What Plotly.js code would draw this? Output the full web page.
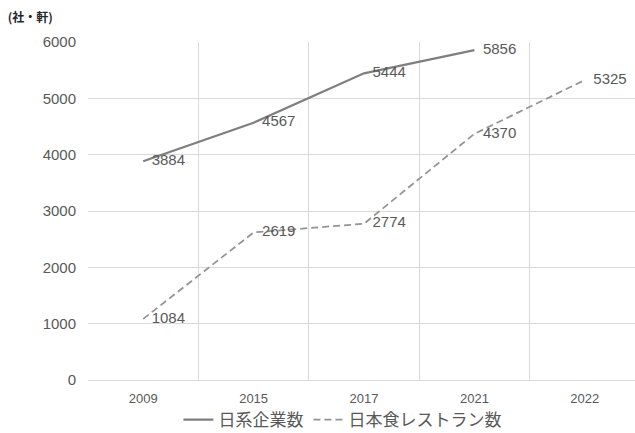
<!DOCTYPE html>
<html>
<head>
<meta charset="utf-8">
<script src="https://cdn.plot.ly/plotly-3.0.1.min.js"></script>
<style>
  html, body { margin: 0; padding: 0; overflow: hidden; background: #fff; }
  #chart { width: 640px; height: 433px; }
</style>
</head>
<body>
<div id="chart"></div>
<script>
// Survey years (category axis)
const years = ['2009', '2015', '2017', '2021', '2022'];

// Japanese-affiliated companies (社)
const companyYears = ['2009', '2015', '2017', '2021'];
const companyCounts = [3884, 4567, 5444, 5856];

// Japanese restaurants (軒)
const restaurantYears = ['2009', '2015', '2017', '2021', '2022'];
const restaurantCounts = [1084, 2619, 2774, 4370, 5325];

const seriesNames = ['日系企業数', '日本食レストラン数'];
const unitLabel = '(社・軒)';

const labelFont = { family: 'Liberation Sans, Arial, sans-serif', size: 15, color: '#595959' };

// Invisible markers give the value labels a small gap from the line
const hiddenMarker = { size: 12, color: 'rgba(0,0,0,0)' };

const traces = [
  {
    type: 'scatter',
    mode: 'lines+markers+text',
    name: seriesNames[0],
    x: companyYears,
    y: companyCounts,
    text: companyCounts.map(String),
    textposition: 'middle right',
    textfont: labelFont,
    marker: hiddenMarker,
    line: { color: '#7f7f7f', width: 2.25 },
    cliponaxis: false,
    hoverinfo: 'x+y'
  },
  {
    type: 'scatter',
    mode: 'lines+markers+text',
    name: seriesNames[1],
    x: restaurantYears,
    y: restaurantCounts,
    text: restaurantCounts.map(String),
    textposition: 'middle right',
    textfont: labelFont,
    marker: hiddenMarker,
    line: { color: '#939393', width: 1.75, dash: '7px,4px' },
    cliponaxis: false,
    hoverinfo: 'x+y'
  }
];

const layout = {
  width: 640,
  height: 433,
  margin: { l: 88, r: 0, t: 42, b: 53 },
  paper_bgcolor: '#ffffff',
  plot_bgcolor: '#ffffff',
  font: { family: 'Liberation Sans, Arial, "Noto Sans CJK JP", sans-serif', color: '#595959' },
  showlegend: true,
  title: {
    text: '<b>' + unitLabel + '</b>',
    font: { family: '"Noto Sans CJK JP", sans-serif', size: 12, color: '#262626' },
    xref: 'container', yref: 'container',
    x: 0.012, xanchor: 'left',
    y: 0.958, yanchor: 'middle'
  },
  xaxis: {
    type: 'category',
    categoryorder: 'array',
    categoryarray: years,
    range: [-0.5, years.length - 0.5],
    autorange: false,
    automargin: false,
    tickson: 'boundaries',
    showgrid: true,
    gridcolor: '#d9d9d9',
    gridwidth: 1,
    showline: true,
    linecolor: '#d9d9d9',
    linewidth: 1,
    ticks: '',
    tickfont: { family: 'Liberation Sans, Arial, sans-serif', size: 13, color: '#595959' },
    ticklabelstandoff: 6,
    fixedrange: true
  },
  yaxis: {
    range: [0, 6000],
    autorange: false,
    automargin: false,
    dtick: 1000,
    showgrid: true,
    gridcolor: '#d9d9d9',
    gridwidth: 1,
    zeroline: false,
    showline: false,
    ticks: '',
    tickfont: { family: 'Liberation Sans, Arial, sans-serif', size: 15, color: '#595959' },
    ticklabelstandoff: 11,
    fixedrange: true
  },
  legend: {
    orientation: 'h',
    xref: 'container', yref: 'container',
    x: 0.535, xanchor: 'center',
    y: 0.03, yanchor: 'middle',
    font: { family: '"Noto Sans CJK JP", sans-serif', size: 17, color: '#595959' },
    itemwidth: 30,
    borderwidth: 0,
    bgcolor: 'rgba(0,0,0,0)'
  }
};

Plotly.newPlot('chart', traces, layout, { displayModeBar: false, staticPlot: true });
</script>
</body>
</html>
